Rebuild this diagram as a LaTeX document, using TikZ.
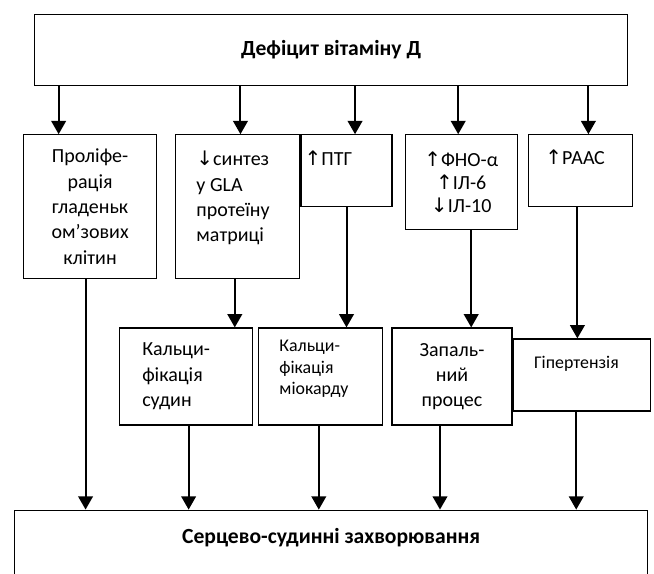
\documentclass[tikz,border=0pt]{standalone}
\usepackage{fontspec}
\setmainfont{Carlito}
\newfontfamily\arrfont{DejaVu Sans}
\newcommand{\uparr}{{\arrfont\char"2191}}
\newcommand{\downarr}{{\arrfont\char"2193}}
\usetikzlibrary{positioning, arrows.meta}
\tikzset{
  box/.style={
    rectangle, draw=black, line width=0.9pt,
    inner sep=0pt, align=center,
    font=\fontsize{15}{19}\selectfont
  },
  headbox/.style={
    box, font=\fontsize{16.2}{19}\selectfont\bfseries
  },
  smallbox/.style={
    box, font=\fontsize{13.4}{16}\selectfont
  },
  lbl/.style={inner sep=0pt, align=left, font=\fontsize{15}{19}\selectfont},
  arrow/.style={line width=1.5pt, -{Triangle[length=10pt, width=11pt]}}
}

\begin{document}
\begin{tikzpicture}
\useasboundingbox (0,0) rectangle (490.5pt,-430.5pt);

% ==============================================================================
% Top
% ==============================================================================
\node[headbox, anchor=north west, minimum width=444.75pt, minimum height=53.25pt]
  (deficit) at (25.5pt,-10.5pt) {Дефіцит вітаміну Д};

% ==============================================================================
% Second row
% ==============================================================================
\node[box, minimum width=99.75pt, minimum height=108pt,
  below right=36pt and -8.25pt of deficit.south west, anchor=north west] (prolif) {
  Проліфе-\\рація\\гладеньк\\ом’зових\\клітин
};

\node[box, minimum width=93pt, minimum height=108pt,
  right=13.5pt of prolif.north east, anchor=north west,
  label={[lbl, anchor=north west, xshift=15.75pt, yshift=-12.5pt]north west:{\downarr синтез\\у GLA\\протеїну\\матриці}}] (synth) {};

\node[box, minimum width=68.25pt, minimum height=54pt,
  right=0pt of synth.north east, anchor=north west,
  label={[lbl, anchor=north west, xshift=3pt, yshift=-12.5pt]north west:{\uparr ПТГ}}] (pth) {};

\node[box, minimum width=84pt, minimum height=71.25pt,
  right=9pt of pth.north east, anchor=north west,
  font=\fontsize{15}{17}\selectfont] (cyto) {
  \uparr ФНО-α\\\uparr ІЛ-6\\\downarr ІЛ-10
};

\node[box, minimum width=78pt, minimum height=54pt,
  right=7.5pt of cyto.north east, anchor=north west,
  label={[lbl, anchor=north, xshift=-4pt, yshift=-11.75pt]north:{\uparr РААС}}] (raas) {};

% ==============================================================================
% Third row
% ==============================================================================
\node[box, minimum width=99.75pt, minimum height=72.75pt,
  inner xsep=17pt, text width=65.75pt, align=left,
  below right=36pt and 72pt of prolif.south west, anchor=north west] (calcv) {
  Кальци-\\фікація\\судин
};

\node[smallbox, minimum width=93pt, minimum height=72.75pt,
  right=3.75pt of calcv.north east, anchor=north west,
  label={[lbl, font=\fontsize{13.4}{16}\selectfont, anchor=north west, xshift=15.75pt, yshift=-9.5pt]north west:{Кальци-\\фікація\\міокарду}}] (calcm) {};

\node[box, minimum width=90pt, minimum height=72.75pt,
  right=6pt of calcm.north east, anchor=north west] (inflam) {
  Запаль-\\ний\\процес
};

\node[smallbox, minimum width=102.75pt, minimum height=54pt,
  below right=8.25pt and 0pt of inflam.north east, anchor=north west,
  label={[lbl, font=\fontsize{13.4}{16}\selectfont, anchor=north, xshift=-4pt, yshift=-13pt]north:{Гіпертензія}}] (hyper) {};

% ==============================================================================
% Bottom
% ==============================================================================
\node[headbox, minimum width=474.75pt, minimum height=63pt,
  below right=63pt and -78.75pt of calcv.south west, anchor=north west,
  label={[lbl, font=\fontsize{16.2}{19}\selectfont\bfseries, anchor=north, yshift=-14pt]north:{Серцево-судинні захворювання}}] (cvd) {};

% ==============================================================================
% Arrows
% ==============================================================================
\draw[arrow] ([xshift=-23.6pt]prolif.north |- deficit.south) -- ([xshift=-23.6pt]prolif.north);
\draw[arrow] ([xshift=2pt]synth.north |- deficit.south) -- ([xshift=2pt]synth.north);
\draw[arrow] ([xshift=6.4pt]pth.north |- deficit.south) -- ([xshift=6.4pt]pth.north);
\draw[arrow] ([xshift=-2.25pt]cyto.north |- deficit.south) -- ([xshift=-2.25pt]cyto.north);
\draw[arrow] ([xshift=6pt]raas.north |- deficit.south) -- ([xshift=6pt]raas.north);

\draw[arrow] ([xshift=-2.25pt]synth.south) -- ([xshift=-2.25pt]synth.south |- calcv.north);
\draw[arrow] (pth.south) -- (pth.south |- calcm.north);
\draw[arrow] ([xshift=7.5pt]cyto.south) -- ([xshift=7.5pt]cyto.south |- inflam.north);
\draw[arrow] ([xshift=-2.25pt]raas.south) -- ([xshift=-2.25pt]raas.south |- hyper.north);

\draw[arrow] ([xshift=-3.4pt]prolif.south) -- ([xshift=-3.4pt]prolif.south |- cvd.north);
\draw[arrow] ([xshift=1.9pt]calcv.south) -- ([xshift=1.9pt]calcv.south |- cvd.north);
\draw[arrow] ([xshift=-1.5pt]calcm.south) -- ([xshift=-1.5pt]calcm.south |- cvd.north);
\draw[arrow] ([xshift=-9pt]inflam.south) -- ([xshift=-9pt]inflam.south |- cvd.north);
\draw[arrow] ([xshift=-4.1pt]hyper.south) -- ([xshift=-4.1pt]hyper.south |- cvd.north);

\end{tikzpicture}
\end{document}
